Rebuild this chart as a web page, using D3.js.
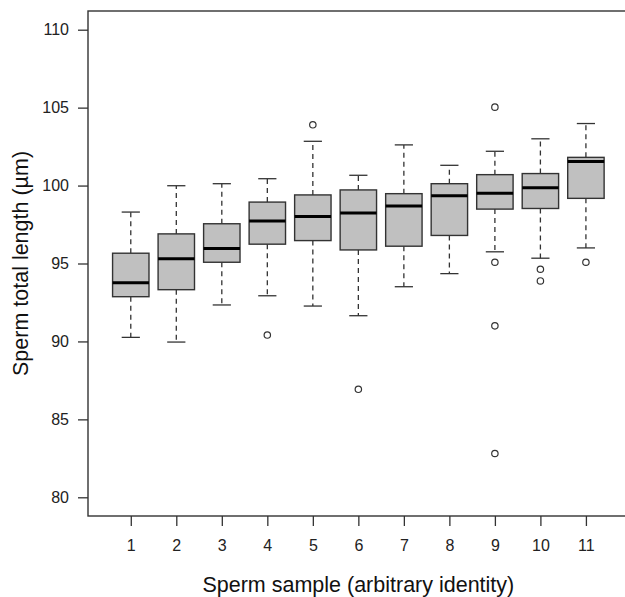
<!DOCTYPE html>
<html>
<head>
<meta charset="utf-8">
<script src="https://cdn.jsdelivr.net/npm/d3@7"></script>
<style>
  body { margin: 0; background: #fff; }
  svg { font-family: "Liberation Sans", Arial, sans-serif; }
</style>
</head>
<body>
<div id="chart"></div>
<script>
// Sperm total length boxplot

var svgWidth = 625;
var svgHeight = 597;

// data
var samples = [1, 2, 3, 4, 5, 6, 7, 8, 9, 10, 11];
var lowWhisk = [90.26, 89.96, 92.34, 92.93, 92.27, 91.65, 93.51, 94.35, 95.75, 95.34, 96.0];
var q1 = [92.87, 93.32, 95.08, 96.24, 96.47, 95.87, 96.11, 96.80, 98.49, 98.53, 99.18];
var medians = [93.77, 95.30, 95.96, 97.72, 98.02, 98.24, 98.69, 99.35, 99.50, 99.86, 101.54];
var q3 = [95.66, 96.90, 97.55, 98.94, 99.40, 99.72, 99.48, 100.12, 100.70, 100.77, 101.81];
var highWhisk = [98.30, 99.99, 100.12, 100.44, 102.84, 100.66, 102.61, 101.30, 102.20, 103.0, 103.98];
var outliers = [[], [], [], [90.41], [103.90], [86.93], [], [], [105.03, 95.08, 91.0, 82.81], [94.63, 93.88], [95.08]];
var yTicks = [80, 85, 90, 95, 100, 105, 110];

var margin = { top: 11, left: 88 };
var plotRight = 628.7;
var plotBottom = 516;

var svg = d3.select("#chart")
  .append("svg")
  .attr("width", svgWidth)
  .attr("height", svgHeight);

var xScale = d3.scaleLinear()
  .domain([0.06, 11.94])
  .range([margin.left, plotRight]);

var yScale = d3.scaleLinear()
  .domain([78.8, 111.2])
  .range([plotBottom, margin.top]);

var boxW = xScale(1.4) - xScale(1);
var capW = xScale(1.2) - xScale(1);

var stats = samples.map(function(s, i) {
  return { s: s, lo: lowWhisk[i], q1: q1[i], med: medians[i], q3: q3[i], hi: highWhisk[i], out: outliers[i] };
});

var g = svg.append("g");

// whiskers (dashed)
g.selectAll(".whisk-lo")
  .data(stats)
  .enter()
  .append("line")
  .attr("x1", d => xScale(d.s))
  .attr("x2", d => xScale(d.s))
  .attr("y1", d => yScale(d.q1))
  .attr("y2", d => yScale(d.lo))
  .attr("stroke", "#333")
  .attr("stroke-width", 1.3)
  .attr("stroke-dasharray", "5,4");

g.selectAll(".whisk-hi")
  .data(stats)
  .enter()
  .append("line")
  .attr("x1", d => xScale(d.s))
  .attr("x2", d => xScale(d.s))
  .attr("y1", d => yScale(d.q3))
  .attr("y2", d => yScale(d.hi))
  .attr("stroke", "#333")
  .attr("stroke-width", 1.3)
  .attr("stroke-dasharray", "5,4");

// staples
["lo", "hi"].forEach(function(k) {
  g.selectAll(".cap-" + k)
    .data(stats)
    .enter()
    .append("line")
    .attr("x1", d => xScale(d.s) - capW)
    .attr("x2", d => xScale(d.s) + capW)
    .attr("y1", d => yScale(d[k]))
    .attr("y2", d => yScale(d[k]))
    .attr("stroke", "#333")
    .attr("stroke-width", 1.3);
});

// boxes
g.selectAll("rect.box")
  .data(stats)
  .enter()
  .append("rect")
  .attr("class", "box")
  .attr("x", d => xScale(d.s) - boxW)
  .attr("width", boxW * 2)
  .attr("y", d => yScale(d.q3))
  .attr("height", d => yScale(d.q1) - yScale(d.q3))
  .attr("fill", "#c0c0c0")
  .attr("stroke", "#333")
  .attr("stroke-width", 1.4);

// medians
g.selectAll(".median")
  .data(stats)
  .enter()
  .append("line")
  .attr("x1", d => xScale(d.s) - boxW)
  .attr("x2", d => xScale(d.s) + boxW)
  .attr("y1", d => yScale(d.med))
  .attr("y2", d => yScale(d.med))
  .attr("stroke", "#000")
  .attr("stroke-width", 3);

// outliers
var outPts = [];
stats.forEach(function(d) {
  d.out.forEach(function(v) { outPts.push({ s: d.s, v: v }); });
});

g.selectAll("circle")
  .data(outPts)
  .enter()
  .append("circle")
  .attr("cx", d => xScale(d.s))
  .attr("cy", d => yScale(d.v))
  .attr("r", 3.2)
  .attr("fill", "none")
  .attr("stroke", "#333")
  .attr("stroke-width", 1.2);

// axes
var leftAxis = d3.axisLeft(yScale)
  .tickValues(yTicks)
  .tickSize(10)
  .tickPadding(9);

var bottomAxis = d3.axisBottom(xScale)
  .tickValues(samples)
  .tickSize(10)
  .tickPadding(14);

var yAxisG = svg.append("g")
  .attr("transform", `translate(${margin.left}, 0)`)
  .call(leftAxis);

var xAxisG = svg.append("g")
  .attr("transform", `translate(0, ${plotBottom})`)
  .call(bottomAxis);

[yAxisG, xAxisG].forEach(function(ax) {
  ax.select(".domain").remove();
  ax.selectAll("line").attr("stroke", "#333").attr("stroke-width", 1.3);
  ax.selectAll("text")
    .attr("fill", "#222")
    .style("font-size", "16px")
    .style("font-family", "Liberation Sans, Arial, sans-serif");
});

// frame
svg.append("rect")
  .attr("x", margin.left)
  .attr("y", margin.top)
  .attr("width", plotRight - margin.left)
  .attr("height", plotBottom - margin.top)
  .attr("fill", "none")
  .attr("stroke", "#333")
  .attr("stroke-width", 1.4);

// axis labels
svg.append("text")
  .attr("x", (margin.left + plotRight) / 2)
  .attr("y", 592)
  .attr("text-anchor", "middle")
  .attr("fill", "#111")
  .style("font-size", "21.5px")
  .text("Sperm sample (arbitrary identity)");

svg.append("text")
  .attr("transform", `translate(28, ${(margin.top + plotBottom) / 2}) rotate(-90)`)
  .attr("text-anchor", "middle")
  .attr("fill", "#111")
  .style("font-size", "21.5px")
  .text("Sperm total length (µm)");
</script>
</body>
</html>
